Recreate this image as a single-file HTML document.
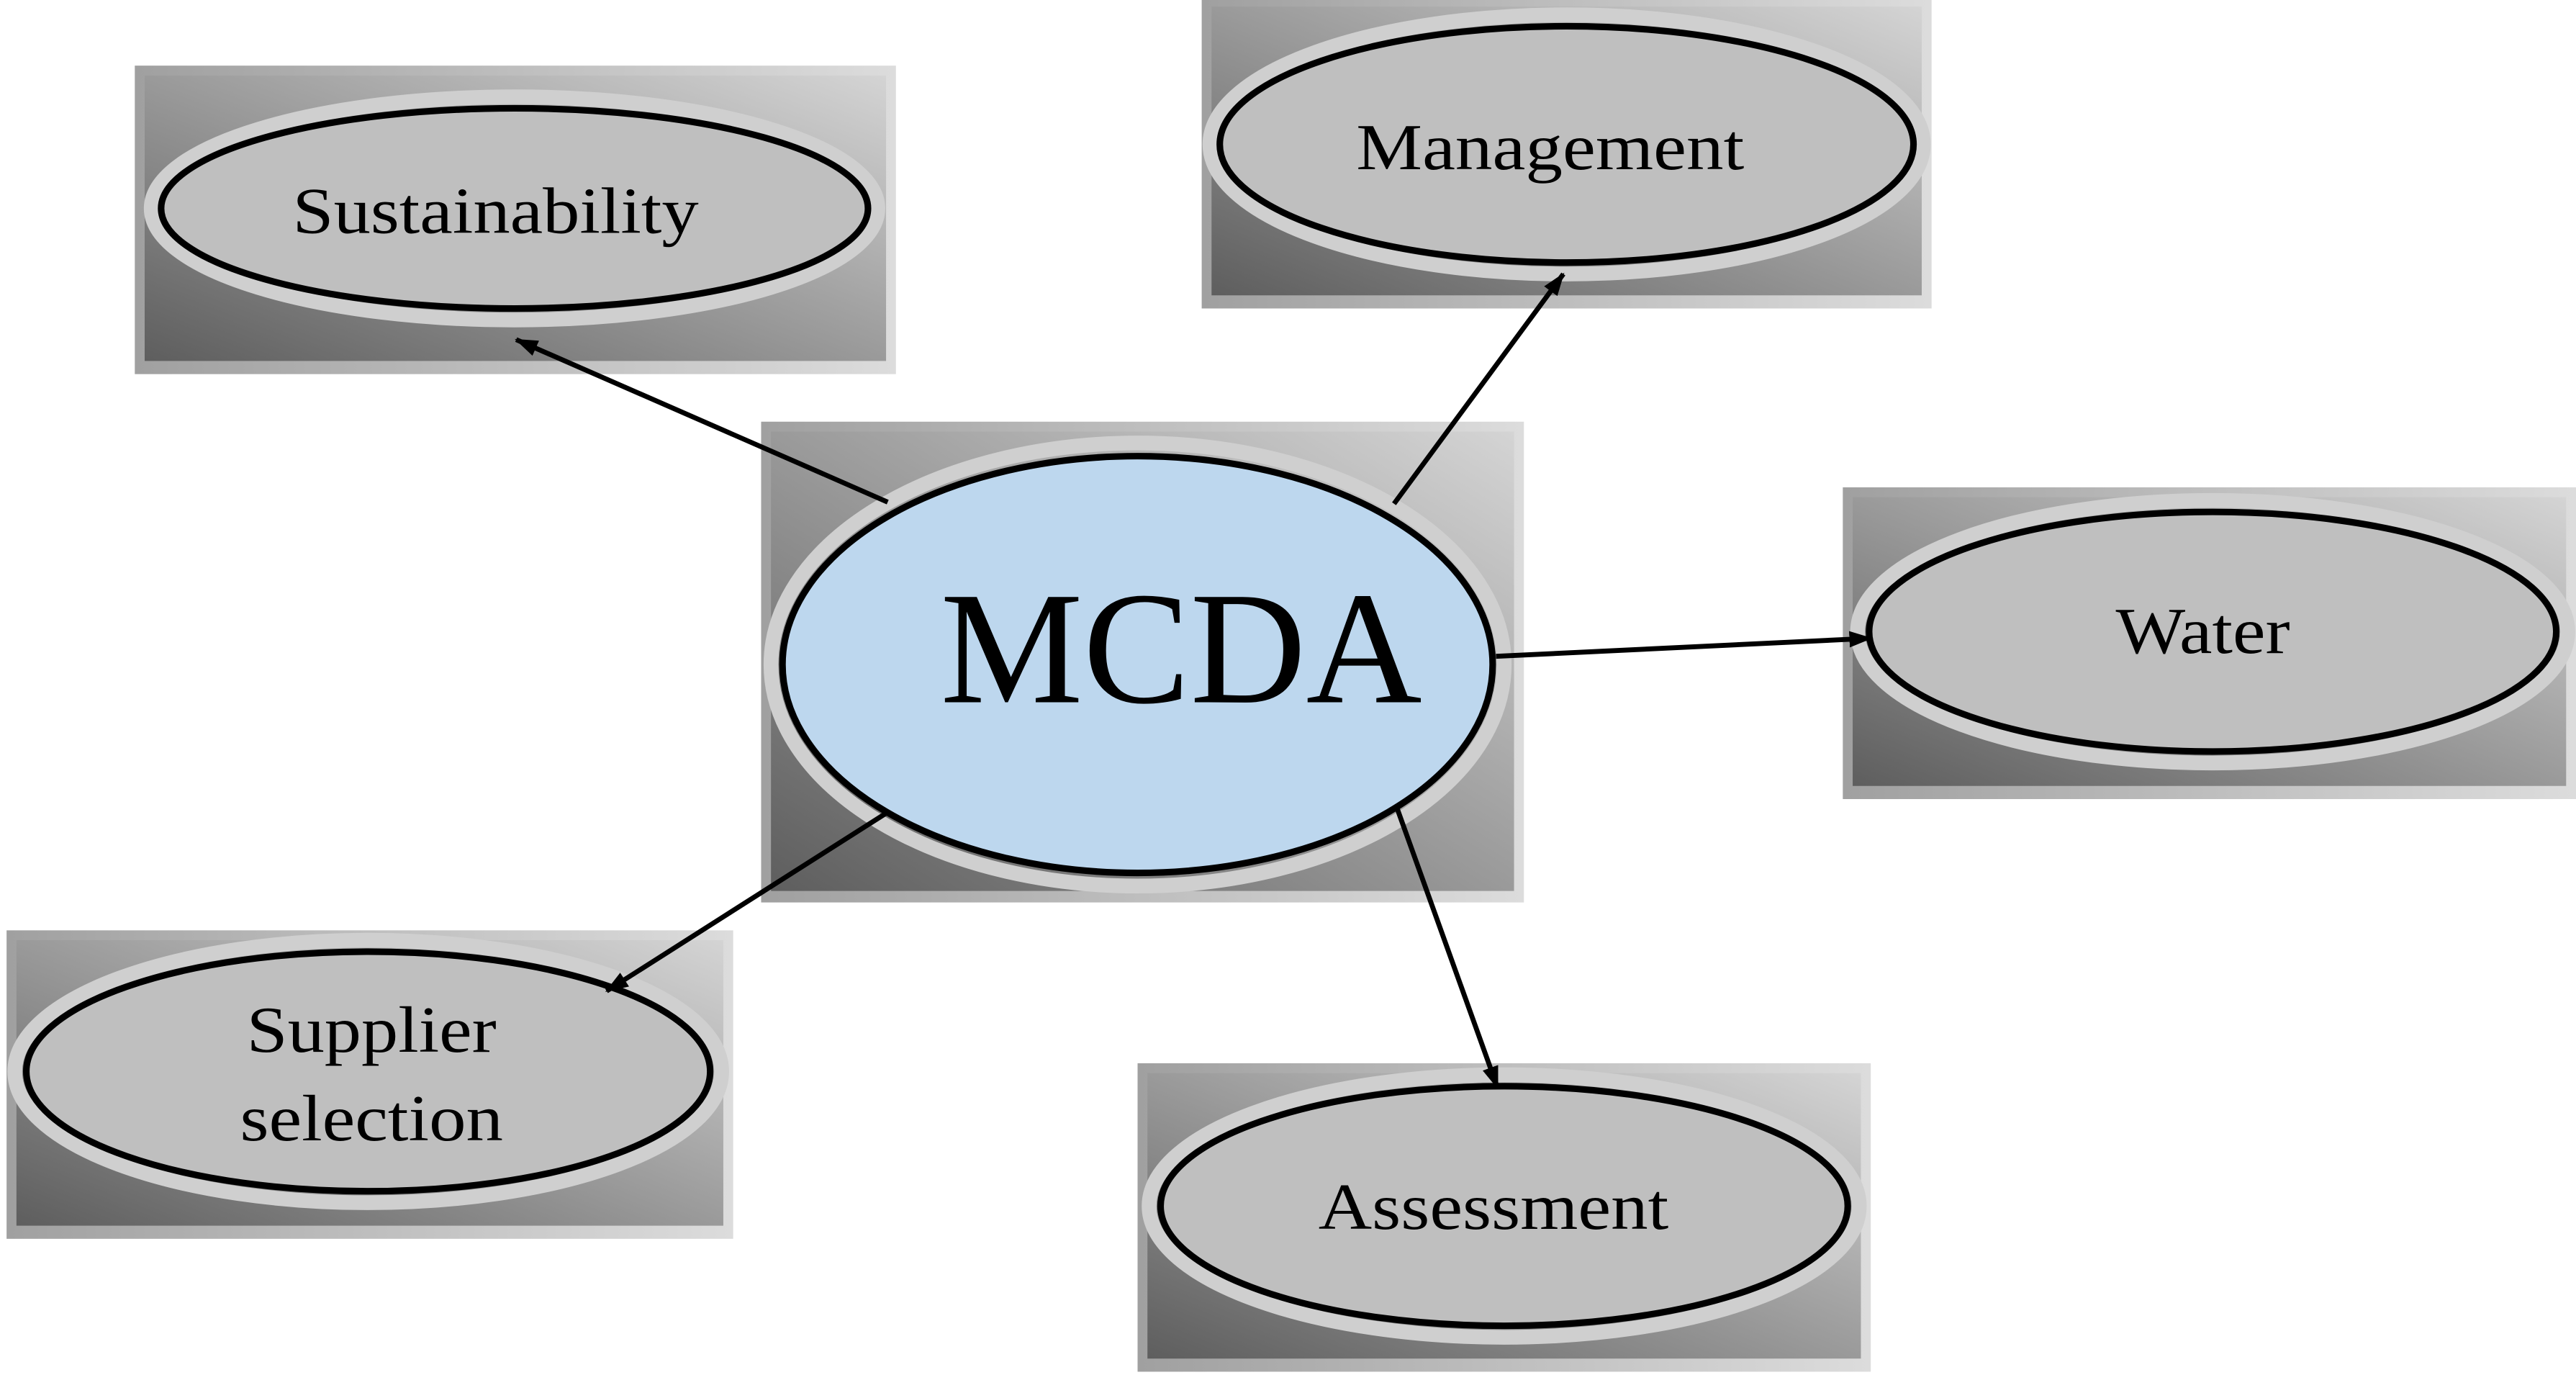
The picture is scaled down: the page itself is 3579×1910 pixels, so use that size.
<!DOCTYPE html>
<html><head><meta charset="utf-8"><style>
html,body{margin:0;padding:0;background:#fff;}
svg{display:block;}
text{font-family:"Liberation Serif",serif;fill:#000;}
</style></head><body>
<svg width="3579" height="1910" viewBox="0 0 1567 838" preserveAspectRatio="none" xmlns="http://www.w3.org/2000/svg">
<defs>
<linearGradient id="g" x1="0" y1="1" x2="1" y2="0">
<stop offset="0" stop-color="#5e5e5e"/><stop offset="0.5" stop-color="#9a9a9a"/><stop offset="1" stop-color="#d4d4d4"/>
</linearGradient>
<linearGradient id="gb" x1="0" y1="0" x2="1" y2="0">
<stop offset="0" stop-color="#a0a0a0"/><stop offset="1" stop-color="#dcdcdc"/>
</linearGradient>
<marker id="a" markerWidth="14" markerHeight="10" refX="13" refY="5" orient="auto" markerUnits="userSpaceOnUse">
<path d="M0,0 L14,5 L0,10 Z" fill="#000"/></marker>
</defs>
<g>
<rect x="82" y="40" width="463" height="188" fill="url(#gb)"/><rect x="88" y="46" width="451" height="174" fill="url(#g)"/>
<rect x="731" y="0" width="444" height="188" fill="url(#gb)"/><rect x="737" y="4" width="432" height="176" fill="url(#g)"/>
<rect x="463" y="257" width="464" height="293" fill="url(#gb)"/><rect x="469" y="263" width="452" height="280" fill="url(#g)"/>
<rect x="1121" y="297" width="446" height="190" fill="url(#gb)"/><rect x="1127" y="303" width="434" height="176" fill="url(#g)"/>
<rect x="4" y="567" width="442" height="188" fill="url(#gb)"/><rect x="10" y="573" width="430" height="174" fill="url(#g)"/>
<rect x="692" y="648" width="446" height="188" fill="url(#gb)"/><rect x="698" y="654" width="434" height="174" fill="url(#g)"/>
</g>
<g stroke-width="4" stroke="#000">
<ellipse cx="313" cy="127" rx="221" ry="68" fill="none" stroke="#cfcfcf" stroke-width="9"/>
<ellipse cx="313" cy="127" rx="215" ry="61" fill="#bfbfbf"/>
<ellipse cx="953" cy="88" rx="217" ry="79" fill="none" stroke="#cfcfcf" stroke-width="9"/>
<ellipse cx="953" cy="88" rx="211" ry="72" fill="#bfbfbf"/>
<ellipse cx="692" cy="405" rx="223" ry="135" fill="none" stroke="#cfcfcf" stroke-width="9"/>
<ellipse cx="692" cy="405" rx="216" ry="127" fill="#bdd7ee"/>
<ellipse cx="1346" cy="385" rx="216" ry="80" fill="none" stroke="#cfcfcf" stroke-width="9"/>
<ellipse cx="1346" cy="385" rx="209" ry="73" fill="#bfbfbf"/>
<ellipse cx="224" cy="653" rx="215" ry="80" fill="none" stroke="#cfcfcf" stroke-width="9"/>
<ellipse cx="224" cy="653" rx="208" ry="73" fill="#bfbfbf"/>
<ellipse cx="915" cy="735" rx="216" ry="80" fill="none" stroke="#cfcfcf" stroke-width="9"/>
<ellipse cx="915" cy="735" rx="209" ry="73" fill="#bfbfbf"/>
</g>
<g stroke="#000" stroke-width="3" marker-end="url(#a)">
<line x1="540" y1="306" x2="314" y2="207"/>
<line x1="848" y1="307" x2="951" y2="167"/>
<line x1="910" y1="400" x2="1138" y2="389"/>
<line x1="540" y1="495" x2="369" y2="604"/>
<line x1="850" y1="493" x2="911" y2="663"/>
</g>
<text x="178" y="142" font-size="40" textLength="247" lengthAdjust="spacingAndGlyphs">Sustainability</text>
<text x="825" y="103" font-size="40" textLength="236" lengthAdjust="spacingAndGlyphs">Management</text>
<text x="572" y="428" font-size="98" textLength="293" lengthAdjust="spacingAndGlyphs">MCDA</text>
<text x="1287" y="398" font-size="40" textLength="106" lengthAdjust="spacingAndGlyphs">Water</text>
<text x="150" y="641" font-size="40" textLength="152" lengthAdjust="spacingAndGlyphs">Supplier</text>
<text x="146" y="695" font-size="40" textLength="160" lengthAdjust="spacingAndGlyphs">selection</text>
<text x="802" y="749" font-size="40" textLength="213" lengthAdjust="spacingAndGlyphs">Assessment</text>
</svg>
</body></html>
